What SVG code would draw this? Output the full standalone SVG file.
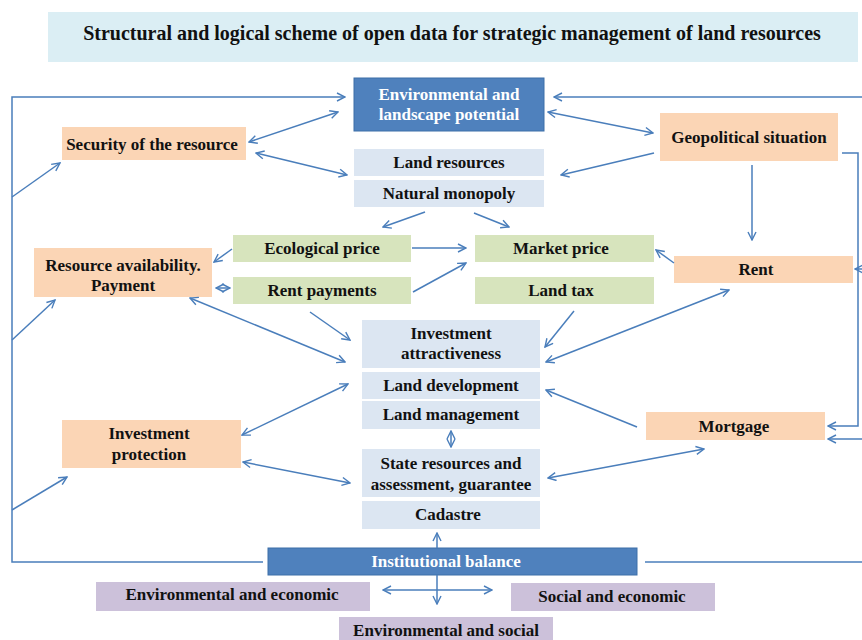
<svg xmlns="http://www.w3.org/2000/svg" width="862" height="640" viewBox="0 0 862 640">
<defs>
<marker id="a" viewBox="0 0 10 10" refX="9" refY="5" markerWidth="10" markerHeight="10" markerUnits="userSpaceOnUse" orient="auto-start-reverse">
<path d="M1,1 L9,5 L1,9" fill="none" stroke="#4a7ebb" stroke-width="1.4"/>
</marker>
<style>
text{font-family:"Liberation Serif","Times New Roman",serif;font-weight:bold;font-size:17px;fill:#111;text-anchor:middle}
.dk rect{fill:#4f81bd;stroke:#3d6fa8;stroke-width:1}
.dk text{fill:#fff}
.lb rect{fill:#dce6f2}
.or rect{fill:#fbd5b5}
.gr rect{fill:#d7e4bd}
.pu rect{fill:#ccc1da}
.c path{fill:none;stroke:#4a7ebb;stroke-width:1.5}
</style>
</defs>
<rect width="862" height="640" fill="#fff"/>
<g id="title"><rect x="48" y="12" width="810" height="50" fill="#dbeef4"/><text x="452" y="40" style="font-size:20px">Structural and logical scheme of open data for strategic management of land resources</text></g>

<g id="env" class="dk"><rect x="354" y="78" width="190" height="53"/><text x="449" y="100">Environmental and</text><text x="449" y="120">landscape potential</text></g>
<g id="landres" class="lb"><rect x="354" y="149" width="190" height="27"/><text x="449" y="168">Land resources</text></g>
<g id="natmon" class="lb"><rect x="354" y="180" width="190" height="27"/><text x="449" y="199">Natural monopoly</text></g>
<g id="security" class="or"><rect x="62" y="127" width="184" height="33"/><text x="152" y="150">Security of the resource</text></g>
<g id="geo" class="or"><rect x="660" y="113" width="178" height="48"/><text x="749" y="143">Geopolitical situation</text></g>
<g id="resav" class="or"><rect x="34" y="248" width="178" height="49"/><text x="123" y="271">Resource availability.</text><text x="123" y="291">Payment</text></g>
<g id="eco" class="gr"><rect x="233" y="235" width="178" height="27"/><text x="322" y="254">Ecological price</text></g>
<g id="rentpay" class="gr"><rect x="233" y="277" width="178" height="27"/><text x="322" y="296">Rent payments</text></g>
<g id="market" class="gr"><rect x="475" y="235" width="179" height="27"/><text x="561" y="254">Market price</text></g>
<g id="landtax" class="gr"><rect x="475" y="277" width="179" height="27"/><text x="561" y="296">Land tax</text></g>
<g id="rent" class="or"><rect x="674" y="256" width="179" height="27"/><text x="756" y="275">Rent</text></g>
<g id="invattr" class="lb"><rect x="362" y="320" width="178" height="48"/><text x="451" y="339">Investment</text><text x="451" y="359">attractiveness</text></g>
<g id="landdev" class="lb"><rect x="362" y="372" width="178" height="27"/><text x="451" y="391">Land development</text></g>
<g id="landman" class="lb"><rect x="362" y="401" width="178" height="28"/><text x="451" y="420">Land management</text></g>
<g id="state" class="lb"><rect x="362" y="449" width="178" height="48"/><text x="451" y="469">State resources and</text><text x="451" y="490">assessment, guarantee</text></g>
<g id="cadastre" class="lb"><rect x="362" y="501" width="178" height="28"/><text x="448" y="520">Cadastre</text></g>
<g id="invprot" class="or"><rect x="62" y="420" width="179" height="48"/><text x="149" y="439">Investment</text><text x="149" y="460">protection</text></g>
<g id="mortgage" class="or"><rect x="646" y="412" width="179" height="28"/><text x="734" y="432">Mortgage</text></g>
<g id="inst" class="dk"><rect x="268" y="548" width="369" height="27"/><text x="446" y="567">Institutional balance</text></g>
<g id="enveco" class="pu"><rect x="96" y="582" width="274" height="29"/><text x="232" y="600">Environmental and economic</text></g>
<g id="soceco" class="pu"><rect x="511" y="583" width="204" height="28"/><text x="612" y="602">Social and economic</text></g>
<g id="envsoc" class="pu"><rect x="339" y="617" width="214" height="30"/><text x="446" y="636">Environmental and social</text></g>

<g id="connectors" class="c">
<path d="M263,562 H12 V97 H345" marker-end="url(#a)"/>
<path d="M12,197 L60,163" marker-end="url(#a)"/>
<path d="M12,340 L55,300" marker-end="url(#a)"/>
<path d="M12,510 L67,477" marker-end="url(#a)"/>
<path d="M862,97 H554" marker-end="url(#a)"/>
<path d="M842,153 H858 V426 H828" marker-end="url(#a)"/>
<path d="M862,269 H855" marker-end="url(#a)"/>
<path d="M862,439 H828" marker-end="url(#a)"/>
<path d="M645,562 H862"/>
<path d="M249,142 L338,112" marker-start="url(#a)" marker-end="url(#a)"/>
<path d="M256,153 L347,175" marker-start="url(#a)" marker-end="url(#a)"/>
<path d="M548,112 L653,133" marker-start="url(#a)" marker-end="url(#a)"/>
<path d="M654,153 L561,175" marker-end="url(#a)"/>
<path d="M425,212 L383,227" marker-end="url(#a)"/>
<path d="M474,213 L509,227" marker-end="url(#a)"/>
<path d="M752,165 V240" marker-end="url(#a)"/>
<path d="M674,263 L656,250" marker-end="url(#a)"/>
<path d="M412,248 H466" marker-end="url(#a)"/>
<path d="M413,292 L466,263" marker-end="url(#a)"/>
<path d="M232,249 L214,262" marker-end="url(#a)"/>
<path d="M216,288 H230" marker-start="url(#a)" marker-end="url(#a)"/>
<path d="M190,298 L345,362" marker-start="url(#a)" marker-end="url(#a)"/>
<path d="M310,312 L350,340" marker-end="url(#a)"/>
<path d="M574,311 L545,347" marker-end="url(#a)"/>
<path d="M729,290 L546,362" marker-start="url(#a)" marker-end="url(#a)"/>
<path d="M637,427 L546,390" marker-end="url(#a)"/>
<path d="M704,449 L548,478" marker-start="url(#a)" marker-end="url(#a)"/>
<path d="M242,435 L348,384" marker-start="url(#a)" marker-end="url(#a)"/>
<path d="M243,462 L350,483" marker-start="url(#a)" marker-end="url(#a)"/>
<path d="M451,431 V447" marker-start="url(#a)" marker-end="url(#a)"/>
<path d="M437,548 V533" marker-end="url(#a)"/>
<path d="M437,575 V604" marker-end="url(#a)"/>
<path d="M383,590 H492" marker-start="url(#a)" marker-end="url(#a)"/>
</g>
</svg>
